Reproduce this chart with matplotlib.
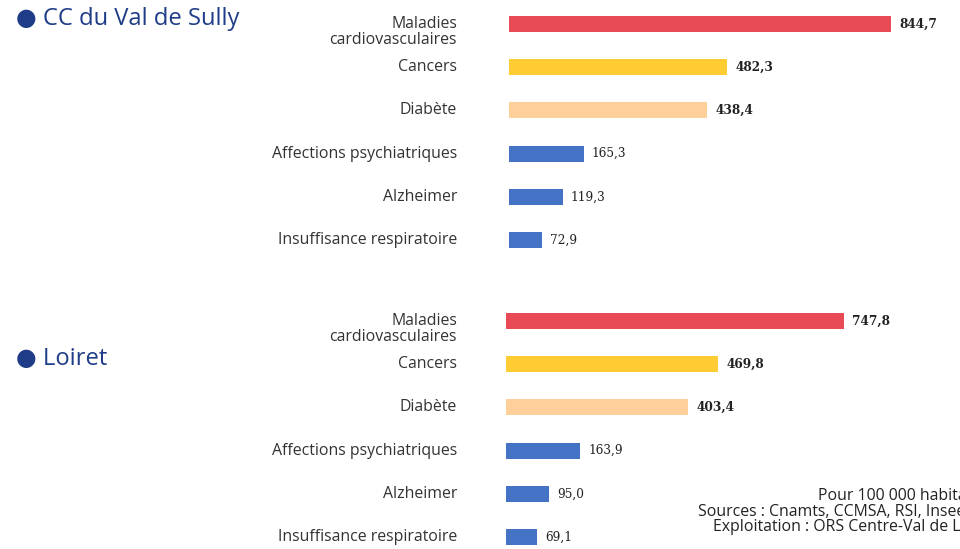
import matplotlib.pyplot as plt
from matplotlib.transforms import offset_copy

categories = ["Maladies\ncardiovasculaires", "Cancers", "Diabète",
              "Affections psychiatriques", "Alzheimer", "Insuffisance respiratoire"]
sully_values = [844.7, 482.3, 438.4, 165.3, 119.3, 72.9]
loiret_values = [747.8, 469.8, 403.4, 163.9, 95.0, 69.1]
bar_colors = ["#e84b56", "#ffcd33", "#ffcf9a", "#4472c4", "#4472c4", "#4472c4"]
bold_values = [True, True, True, False, False, False]

W, H = 960, 549
fig = plt.figure(figsize=(W / 100, H / 100), dpi=100)


def fmt(v):
    return f"{v:.1f}".replace(".", ",")


def panel(left_px, top_px, bottom_px, ylim, values):
    ax = fig.add_axes([left_px / W, 1 - bottom_px / H, 1000 * 0.4522 / W, (bottom_px - top_px) / H])
    ax.set_xlim(0, 1000)
    ax.set_ylim(*ylim)
    ax.axis("off")
    ypos = list(range(len(categories)))
    ax.barh(ypos, values, height=0.37, color=bar_colors)
    # labels end at the same x in both panels
    lab_tr = offset_copy(ax.transData, fig=fig, x=457 - left_px, y=0, units="dots")
    val_tr = offset_copy(ax.transData, fig=fig, x=8, y=0, units="dots")
    for i, (cat, v, b) in enumerate(zip(categories, values, bold_values)):
        y = i + 0.19 if "\n" in cat else i
        ax.text(0, y, cat, transform=lab_tr, ha="right", va="center", ma="right",
                fontsize=11.4, family="Open Sans", color="#333333", linespacing=1.05,
                clip_on=False)
        ax.text(v, i, fmt(v), transform=val_tr, ha="left", va="center",
                fontsize=8.7, family="DejaVu Serif", color="#222222",
                fontweight="bold" if b else "normal", clip_on=False)
    return ax


panel(509, 2, 262, (5.509, -0.509), sully_values)
panel(506, 299, 549, (5.278, -0.509), loiret_values)

title_color = "#1f3c88"
fig.text(16 / W, 1 - 19 / H, "● CC du Val de Sully", ha="left", va="center",
         fontsize=17.1, family=["Open Sans", "DejaVu Sans"], color=title_color)
fig.text(16 / W, 1 - 359 / H, "● Loiret", ha="left", va="center",
         fontsize=17.1, family=["Open Sans", "DejaVu Sans"], color=title_color)

footer = [("Pour 100 000 habitants", 818, 496),
          ("Sources : Cnamts, CCMSA, RSI, Insee", 698, 512),
          ("Exploitation : ORS Centre-Val de Loire", 713, 527)]
for txt, x, y in footer:
    fig.text(x / W, 1 - y / H, txt, ha="left", va="center", fontsize=11.4,
             family="Open Sans", color="#222222")

fig.savefig("out.png", dpi=100)
